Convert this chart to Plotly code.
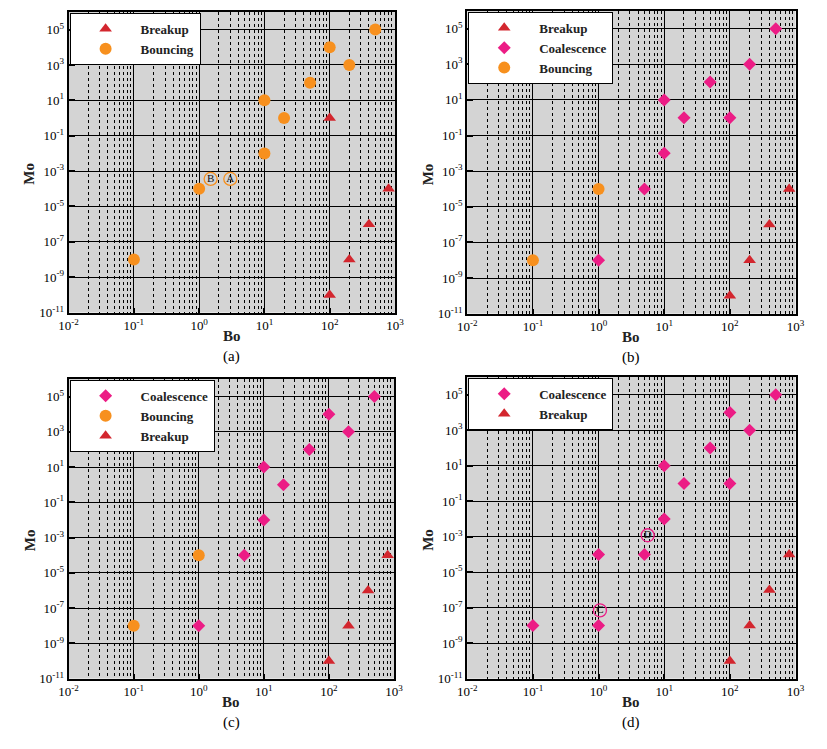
import plotly.graph_objects as go

W, H = 827, 749

# ---------------- data ----------------
a_breakup_bo = [100, 100, 200, 400, 800]
a_breakup_mo = [1e0, 1e-10, 1e-8, 1e-6, 1e-4]
breakup_bo = [100, 200, 400, 800]
breakup_mo = [1e-10, 1e-8, 1e-6, 1e-4]

a_bounce_bo = [0.1, 1, 10, 10, 20, 50, 100, 200, 500]
a_bounce_mo = [1e-8, 1e-4, 1e-2, 1e1, 1e0, 1e2, 1e4, 1e3, 1e5]

b_coal_bo = [1, 5, 10, 10, 20, 100, 50, 200, 500]
b_coal_mo = [1e-8, 1e-4, 1e-2, 1e1, 1e0, 1e0, 1e2, 1e3, 1e5]
b_bounce_bo = [0.1, 1]
b_bounce_mo = [1e-8, 1e-4]

c_coal_bo = [1, 5, 10, 10, 20, 50, 100, 200, 500]
c_coal_mo = [1e-8, 1e-4, 1e-2, 1e1, 1e0, 1e2, 1e4, 1e3, 1e5]
c_bounce_bo = [0.1, 1]
c_bounce_mo = [1e-8, 1e-4]

d_coal_bo = [0.1, 1, 1, 5, 10, 10, 20, 100, 50, 100, 200, 500]
d_coal_mo = [1e-8, 1e-8, 1e-4, 1e-4, 1e-2, 1e1, 1e0, 1e0, 1e2, 1e4, 1e3, 1e5]

a_label_text = ["B", "A"]
a_label_bo = [1.5, 3.0]
a_label_mo = [3.6e-4, 3.6e-4]
d_label_text = ["D", "C"]
d_label_bo = [5.6, 1.05]
d_label_mo = [1.2e-3, 7e-8]

x_exps = [-2, -1, 0, 1, 2, 3]
y_exps = [-11, -9, -7, -5, -3, -1, 1, 3, 5]
x_ticktext = ["10<sup>%d</sup>" % e for e in x_exps]
y_ticktext = ["10<sup>%d</sup>" % e for e in y_exps]
captions = ["(a)", "(b)", "(c)", "(d)"]

# ---------------- styles ----------------
ORANGE = "#f7901e"
PINK = "#ec1c85"
RED = "#d3262e"
BG = "#d4d4d4"
SERIF = "Liberation Serif, Times New Roman, serif"

# panel pixel boxes: (left, right, top, bottom)
boxes = [(60, 394, 12, 316), (468, 804, 11, 317), (60, 393, 383, 686), (468, 804, 381, 686)]

fig = go.Figure()

def px_x(p):
    return p / W

def px_y(p):
    return 1 - p / H

axis_names = [("x", "y"), ("x2", "y2"), ("x3", "y3"), ("x4", "y4")]
legend_names = ["legend", "legend2", "legend3", "legend4"]

def tri(bo, mo, i):
    return go.Scatter(x=bo, y=mo, mode="markers", name="Breakup",
                      marker=dict(symbol="triangle-up", size=11, color=RED),
                      xaxis=axis_names[i][0], yaxis=axis_names[i][1], legend=legend_names[i])

def circ(bo, mo, i):
    return go.Scatter(x=bo, y=mo, mode="markers", name="Bouncing",
                      marker=dict(symbol="circle", size=12, color=ORANGE),
                      xaxis=axis_names[i][0], yaxis=axis_names[i][1], legend=legend_names[i])

def dia(bo, mo, i):
    return go.Scatter(x=bo, y=mo, mode="markers", name="Coalescence",
                      marker=dict(symbol="diamond", size=10, color=PINK),
                      xaxis=axis_names[i][0], yaxis=axis_names[i][1], legend=legend_names[i])

def labels(bo, mo, txt, col, i):
    return go.Scatter(x=bo, y=mo, mode="markers+text", text=txt, showlegend=False,
                      textposition="middle center",
                      textfont=dict(family=SERIF, size=11, color="#111111"),
                      marker=dict(symbol="circle-open", size=13, color=col, line=dict(width=1.3)),
                      xaxis=axis_names[i][0], yaxis=axis_names[i][1])

# (a)
fig.add_trace(tri(a_breakup_bo, a_breakup_mo, 0))
fig.add_trace(circ(a_bounce_bo, a_bounce_mo, 0))
fig.add_trace(labels(a_label_bo, a_label_mo, a_label_text, ORANGE, 0))
# (b)
fig.add_trace(tri(breakup_bo, breakup_mo, 1))
fig.add_trace(dia(b_coal_bo, b_coal_mo, 1))
fig.add_trace(circ(b_bounce_bo, b_bounce_mo, 1))
# (c)
fig.add_trace(dia(c_coal_bo, c_coal_mo, 2))
fig.add_trace(circ(c_bounce_bo, c_bounce_mo, 2))
fig.add_trace(tri(breakup_bo, breakup_mo, 2))
# (d)
fig.add_trace(dia(d_coal_bo, d_coal_mo, 3))
fig.add_trace(tri(breakup_bo, breakup_mo, 3))
fig.add_trace(labels(d_label_bo, d_label_mo, d_label_text, PINK, 3))

minor_x = [k * 10 ** p for p in range(-2, 3) for k in range(2, 10)]

layout = dict(width=W, height=H, margin=dict(l=0, r=0, t=0, b=0),
              paper_bgcolor="white", plot_bgcolor=BG, showlegend=True,
              font=dict(family=SERIF, color="black"))

annotations = []
for i, (l, r, t, b) in enumerate(boxes):
    sx = "" if i == 0 else str(i + 1)
    layout["xaxis" + sx] = dict(
        type="log", range=[-2, 3], domain=[px_x(l), px_x(r)],
        anchor="y" + sx, tickmode="array",
        tickvals=[10.0 ** e for e in x_exps], ticktext=x_ticktext,
        ticks="inside", ticklen=5, tickwidth=2, tickcolor="black",
        tickfont=dict(family=SERIF, size=13, color="black"),
        showgrid=True, gridcolor="black", gridwidth=1.3,
        showline=True, linecolor="black", linewidth=2, mirror=True,
        zeroline=False,
        minor=dict(tickmode="array", tickvals=minor_x, showgrid=True,
                   gridcolor="black", griddash="dot", gridwidth=1, ticks=""),
    )
    layout["yaxis" + sx] = dict(
        type="log", range=[-11, 6], domain=[px_y(b), px_y(t)],
        anchor="x" + sx, tickmode="array",
        tickvals=[10.0 ** e for e in y_exps], ticktext=y_ticktext,
        ticks="inside", ticklen=6, tickwidth=2, tickcolor="black",
        tickfont=dict(family=SERIF, size=13, color="black"),
        showgrid=True, gridcolor="black", gridwidth=1.3,
        showline=True, linecolor="black", linewidth=2, mirror=True,
        zeroline=False,
    )
    layout[legend_names[i]] = dict(
        x=px_x(l + 1), y=px_y(t + 1), xanchor="left", yanchor="top",
        xref="paper", yref="paper",
        bgcolor="white", bordercolor="black", borderwidth=1,
        itemwidth=60, font=dict(family=SERIF, size=13, color="#222222", weight="bold"),
        traceorder="normal",
    )
    cx = (l + r) / 2
    annotations.append(dict(text="<b>Bo</b>", x=px_x(cx), y=px_y(b + 24), xref="paper", yref="paper",
                            xanchor="center", yanchor="middle",
                            showarrow=False, font=dict(family=SERIF, size=15, color="#222222")))
    annotations.append(dict(text="<b>Mo</b>", x=px_x(l - 40), y=px_y((t + b) / 2 + 12), xref="paper",
                            yref="paper", xanchor="center", yanchor="middle",
                            showarrow=False, textangle=-90,
                            font=dict(family=SERIF, size=15, color="#222222")))
    annotations.append(dict(text=captions[i], x=px_x(cx), y=px_y(b + 44), xref="paper", yref="paper",
                            xanchor="center", yanchor="middle",
                            showarrow=False, font=dict(family=SERIF, size=15, color="black")))

layout["annotations"] = annotations
fig.update_layout(**layout)

fig.write_html("out.html")
